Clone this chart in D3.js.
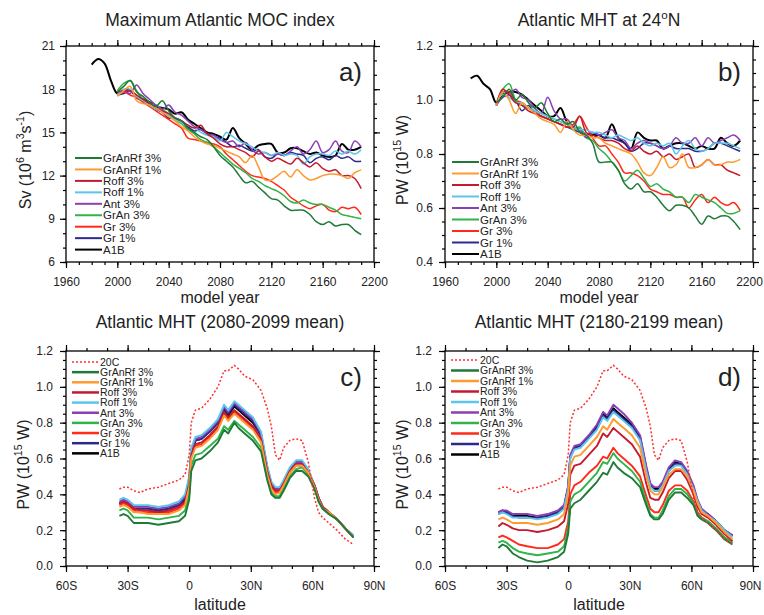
<!DOCTYPE html>
<html>
<head>
<meta charset="utf-8">
<script src="https://cdn.jsdelivr.net/npm/d3@7"></script>
<style>
body { margin: 0; background: #fff; }
text { font-family: "Liberation Sans", Arial, Helvetica, sans-serif; fill: #222; }
</style>
</head>
<body>
<script>
// experiment names / colours (legend order)
var expNames = ["GrAnRf 3%", "GrAnRf 1%", "Roff 3%", "Roff 1%", "Ant 3%", "GrAn 3%", "Gr 3%", "Gr 1%", "A1B"];
var expColors = ["#1f7a38", "#ff9a2e", "#c41a30", "#5cc6ea", "#8a3fb5", "#2fb34a", "#ff2a1a", "#2b2a8c", "#000000"];

// time axis of the sensitivity runs
var years = [2000, 2005, 2010, 2015, 2020, 2025, 2030, 2035, 2040, 2045, 2050, 2055, 2060, 2065, 2070, 2075,
  2080, 2085, 2090, 2095, 2100, 2105, 2110, 2115, 2120, 2125, 2130, 2135, 2140, 2145, 2150, 2155, 2160,
  2165, 2170, 2175, 2180, 2185, 2190];
var a1bYears = [1980, 1985, 1990, 1995].concat(years);

// a) maximum Atlantic MOC (Sv)
var mocGrAnRf3 = [17.8, 18.2, 18.6, 17.8, 17.5, 17.1, 16.8, 17.2, 16.5, 16.0, 15.8, 15.3, 15.0, 14.7, 14.5, 14.0, 13.4, 13.0, 12.6, 12.0, 11.5, 11.6, 11.2, 10.8, 10.4, 10.3, 9.9, 9.6, 9.6, 9.6, 9.3, 8.8, 8.6, 8.8, 8.5, 8.6, 8.6, 8.2, 7.9];
var mocGrAnRf1 = [17.5, 17.9, 18.2, 17.2, 17.0, 16.9, 16.7, 16.4, 16.1, 15.8, 15.4, 15.1, 14.7, 14.4, 14.2, 14.1, 13.9, 13.7, 13.5, 13.3, 12.9, 13.4, 12.6, 11.7, 11.7, 12.0, 12.3, 11.9, 12.4, 12.0, 11.7, 11.8, 12.0, 12.1, 12.1, 12.0, 11.8, 12.2, 12.4];
var mocRoff3 = [17.8, 17.9, 17.9, 17.6, 17.3, 17.0, 16.7, 16.5, 16.3, 16.0, 15.8, 15.5, 15.3, 15.5, 14.9, 14.6, 14.2, 14.0, 14.0, 13.8, 13.6, 13.3, 13.7, 13.3, 13.0, 13.2, 13.0, 12.8, 13.2, 12.9, 12.6, 12.9, 12.5, 12.3, 12.4, 12.0, 12.0, 11.8, 11.1];
var mocRoff1 = [17.6, 18.0, 18.0, 17.5, 17.2, 16.9, 16.6, 16.5, 16.2, 15.9, 15.7, 15.5, 15.3, 15.0, 14.8, 14.7, 14.4, 15.0, 14.7, 14.4, 14.2, 14.0, 13.7, 13.6, 13.4, 13.6, 13.4, 13.5, 13.4, 12.8, 13.3, 13.5, 13.5, 13.4, 13.7, 13.5, 13.7, 13.5, 13.8];
var mocAnt3 = [17.6, 17.9, 17.7, 18.3, 17.7, 17.3, 16.9, 16.6, 16.9, 16.4, 16.2, 15.8, 15.4, 15.2, 14.9, 14.8, 14.5, 14.3, 14.4, 14.0, 14.3, 13.8, 13.5, 13.6, 13.4, 13.5, 13.4, 13.7, 14.0, 13.5, 13.8, 14.4, 13.6, 13.8, 14.4, 13.7, 13.6, 14.4, 14.0];
var mocGrAn3 = [17.9, 18.4, 18.6, 17.9, 17.3, 17.0, 16.9, 16.6, 16.3, 15.9, 15.6, 15.2, 14.9, 14.5, 14.3, 14.0, 13.6, 13.2, 12.8, 12.5, 12.2, 11.8, 11.6, 11.3, 11.1, 10.9, 10.6, 10.2, 10.1, 10.3, 10.1, 10.0, 10.0, 9.8, 9.6, 9.3, 9.2, 9.1, 9.0];
var mocGr3 = [17.7, 17.8, 17.6, 17.4, 17.1, 16.8, 16.5, 16.2, 15.9, 15.6, 15.3, 14.6, 14.5, 14.4, 14.3, 14.2, 14.0, 13.5, 13.1, 12.7, 12.3, 12.0, 11.9, 11.8, 11.6, 11.3, 11.0, 10.5, 10.2, 9.9, 9.7, 9.9, 10.0, 9.6, 9.5, 9.8, 9.7, 9.8, 9.3];
var mocGr1 = [17.6, 17.7, 17.9, 17.4, 17.2, 16.9, 16.6, 16.4, 16.0, 16.0, 15.8, 15.4, 15.1, 15.2, 14.9, 14.7, 14.6, 14.3, 14.0, 14.1, 13.9, 13.7, 13.8, 13.3, 13.2, 13.5, 13.4, 13.6, 13.5, 13.4, 12.9, 13.2, 13.3, 13.1, 13.4, 13.2, 13.3, 13.0, 13.0];
var mocA1B = [19.7, 20.1, 19.8, 18.6, 17.7, 17.9, 17.9, 17.5, 17.3, 17.1, 16.8, 16.7, 16.6, 16.3, 16.4, 15.9, 15.6, 15.3, 15.0, 14.9, 14.7, 14.5, 15.3, 14.6, 14.2, 13.8, 14.1, 14.2, 14.2, 13.6, 13.6, 13.9, 13.9, 13.7, 13.5, 13.6, 13.4, 13.3, 13.4, 14.2, 13.8, 13.8, 14.0];

// b) Atlantic MHT at 24N (PW)
var mhtGrAnRf3 = [0.99, 1.01, 1.04, 1.00, 1.02, 0.99, 0.97, 0.99, 0.95, 0.92, 0.93, 0.91, 0.92, 0.88, 0.87, 0.84, 0.77, 0.77, 0.77, 0.74, 0.69, 0.67, 0.69, 0.66, 0.66, 0.64, 0.61, 0.59, 0.61, 0.61, 0.60, 0.57, 0.54, 0.57, 0.56, 0.57, 0.57, 0.55, 0.52];
var mhtGrAnRf1 = [0.98, 1.03, 1.00, 0.95, 0.99, 0.97, 0.95, 0.93, 0.92, 0.91, 0.88, 0.92, 0.89, 0.87, 0.87, 0.86, 0.86, 0.84, 0.83, 0.82, 0.81, 0.80, 0.77, 0.73, 0.72, 0.75, 0.79, 0.75, 0.76, 0.80, 0.75, 0.75, 0.76, 0.78, 0.76, 0.76, 0.77, 0.77, 0.78];
var mhtRoff3 = [0.98, 1.04, 1.02, 0.99, 0.98, 0.96, 0.95, 0.94, 0.93, 0.92, 0.91, 0.90, 0.90, 0.94, 0.88, 0.87, 0.86, 0.85, 0.85, 0.84, 0.82, 0.81, 0.83, 0.81, 0.80, 0.81, 0.79, 0.80, 0.78, 0.79, 0.80, 0.75, 0.76, 0.78, 0.76, 0.76, 0.74, 0.73, 0.72];
var mhtRoff1 = [0.99, 1.02, 1.01, 0.99, 0.99, 0.97, 0.96, 0.95, 0.94, 0.93, 0.92, 0.91, 0.90, 0.89, 0.89, 0.88, 0.88, 0.87, 0.86, 0.87, 0.86, 0.85, 0.86, 0.84, 0.83, 0.84, 0.83, 0.84, 0.80, 0.83, 0.85, 0.82, 0.81, 0.82, 0.84, 0.84, 0.84, 0.83, 0.82];
var mhtAnt3 = [0.98, 1.01, 1.02, 1.04, 1.01, 1.00, 0.97, 0.95, 1.01, 0.96, 0.93, 0.93, 0.90, 0.89, 0.86, 0.88, 0.87, 0.88, 0.89, 0.86, 0.85, 0.82, 0.84, 0.85, 0.84, 0.83, 0.82, 0.83, 0.86, 0.84, 0.84, 0.86, 0.83, 0.86, 0.84, 0.85, 0.86, 0.87, 0.85];
var mhtGrAn3 = [0.99, 1.04, 1.06, 1.00, 0.98, 0.97, 0.96, 0.95, 0.94, 0.93, 0.92, 0.91, 0.89, 0.90, 0.86, 0.85, 0.82, 0.80, 0.77, 0.74, 0.70, 0.72, 0.74, 0.71, 0.68, 0.69, 0.67, 0.66, 0.64, 0.64, 0.62, 0.65, 0.64, 0.63, 0.62, 0.60, 0.58, 0.58, 0.59];
var mhtGr3 = [0.98, 1.03, 1.03, 1.00, 0.99, 0.97, 0.96, 0.94, 0.93, 0.92, 0.91, 0.90, 0.91, 0.94, 0.90, 0.86, 0.83, 0.83, 0.80, 0.77, 0.73, 0.73, 0.72, 0.70, 0.67, 0.66, 0.65, 0.65, 0.64, 0.64, 0.60, 0.63, 0.65, 0.62, 0.64, 0.62, 0.61, 0.62, 0.59];
var mhtGr1 = [0.98, 1.03, 1.02, 1.00, 0.96, 0.98, 0.95, 0.94, 0.93, 0.92, 0.91, 0.90, 0.89, 0.88, 0.87, 0.88, 0.87, 0.86, 0.86, 0.85, 0.84, 0.81, 0.82, 0.84, 0.84, 0.83, 0.82, 0.83, 0.82, 0.82, 0.82, 0.81, 0.81, 0.82, 0.84, 0.84, 0.83, 0.82, 0.81];
var mhtA1B = [1.08, 1.09, 1.06, 1.04, 0.99, 1.02, 1.03, 1.03, 1.02, 1.00, 0.98, 0.96, 0.94, 0.94, 0.97, 0.92, 0.90, 0.89, 0.87, 0.87, 0.87, 0.86, 0.91, 0.86, 0.84, 0.82, 0.88, 0.86, 0.85, 0.85, 0.82, 0.83, 0.84, 0.84, 0.83, 0.82, 0.83, 0.82, 0.82, 0.86, 0.84, 0.83, 0.85];

// c), d) MHT as function of latitude
var lats = [-34, -32, -30, -27, -24, -20, -15, -10, -5, -2, 0, 1, 3, 6, 10, 14, 17, 19, 22, 24, 27, 31, 35, 38,
  40, 42, 44, 46, 49, 52, 55, 58, 61, 63, 65, 68, 72, 76, 80];
var mht20C = [0.43, 0.44, 0.44, 0.42, 0.41, 0.43, 0.44, 0.46, 0.48, 0.51, 0.62, 0.80, 0.87, 0.88, 0.93, 1.00, 1.09, 1.09, 1.12, 1.10, 1.06, 1.04, 0.98, 0.88, 0.78, 0.62, 0.59, 0.66, 0.70, 0.71, 0.70, 0.58, 0.38, 0.30, 0.27, 0.24, 0.20, 0.15, 0.12];

// 2080-2099 mean
var c_GrAnRf3 = [0.28, 0.29, 0.28, 0.24, 0.24, 0.24, 0.23, 0.24, 0.25, 0.28, 0.37, 0.53, 0.59, 0.60, 0.64, 0.69, 0.76, 0.74, 0.80, 0.77, 0.74, 0.70, 0.64, 0.48, 0.40, 0.38, 0.38, 0.42, 0.49, 0.53, 0.53, 0.50, 0.43, 0.36, 0.32, 0.29, 0.26, 0.21, 0.16];
var c_GrAnRf1 = [0.33, 0.34, 0.33, 0.30, 0.30, 0.29, 0.29, 0.29, 0.31, 0.34, 0.44, 0.60, 0.66, 0.67, 0.71, 0.76, 0.84, 0.81, 0.85, 0.83, 0.80, 0.76, 0.69, 0.51, 0.43, 0.40, 0.41, 0.45, 0.52, 0.56, 0.56, 0.52, 0.44, 0.37, 0.32, 0.30, 0.26, 0.21, 0.16];
var c_Roff3 = [0.35, 0.36, 0.35, 0.32, 0.31, 0.31, 0.30, 0.31, 0.33, 0.36, 0.46, 0.62, 0.68, 0.69, 0.73, 0.78, 0.86, 0.83, 0.87, 0.85, 0.82, 0.78, 0.71, 0.53, 0.45, 0.42, 0.42, 0.46, 0.53, 0.57, 0.57, 0.52, 0.45, 0.38, 0.33, 0.30, 0.26, 0.21, 0.16];
var c_Roff1 = [0.37, 0.38, 0.37, 0.34, 0.34, 0.34, 0.33, 0.34, 0.36, 0.40, 0.50, 0.66, 0.72, 0.73, 0.77, 0.82, 0.90, 0.87, 0.92, 0.90, 0.87, 0.83, 0.75, 0.56, 0.47, 0.44, 0.44, 0.48, 0.55, 0.59, 0.59, 0.54, 0.45, 0.38, 0.33, 0.30, 0.26, 0.21, 0.17];
var c_Ant3 = [0.36, 0.37, 0.36, 0.33, 0.33, 0.33, 0.32, 0.33, 0.35, 0.39, 0.49, 0.65, 0.71, 0.72, 0.76, 0.81, 0.89, 0.86, 0.91, 0.89, 0.86, 0.82, 0.74, 0.55, 0.46, 0.43, 0.43, 0.47, 0.54, 0.58, 0.58, 0.53, 0.45, 0.38, 0.33, 0.30, 0.26, 0.21, 0.17];
var c_GrAn3 = [0.31, 0.32, 0.31, 0.27, 0.27, 0.27, 0.26, 0.27, 0.28, 0.31, 0.40, 0.56, 0.62, 0.63, 0.67, 0.71, 0.78, 0.76, 0.81, 0.79, 0.76, 0.72, 0.66, 0.49, 0.41, 0.39, 0.39, 0.43, 0.50, 0.54, 0.55, 0.51, 0.44, 0.36, 0.32, 0.29, 0.26, 0.21, 0.16];
var c_Gr3 = [0.34, 0.35, 0.34, 0.31, 0.30, 0.30, 0.30, 0.30, 0.32, 0.35, 0.45, 0.61, 0.67, 0.68, 0.72, 0.77, 0.85, 0.82, 0.86, 0.84, 0.81, 0.77, 0.70, 0.52, 0.44, 0.41, 0.41, 0.45, 0.52, 0.56, 0.56, 0.52, 0.44, 0.37, 0.32, 0.30, 0.26, 0.21, 0.16];
var c_Gr1 = [0.35, 0.36, 0.35, 0.32, 0.32, 0.32, 0.31, 0.32, 0.34, 0.38, 0.48, 0.64, 0.70, 0.71, 0.75, 0.80, 0.88, 0.85, 0.90, 0.88, 0.85, 0.81, 0.73, 0.55, 0.46, 0.43, 0.43, 0.47, 0.54, 0.58, 0.58, 0.53, 0.45, 0.38, 0.33, 0.30, 0.26, 0.21, 0.16];
var c_A1B = [0.35, 0.36, 0.35, 0.32, 0.32, 0.32, 0.31, 0.32, 0.34, 0.37, 0.47, 0.63, 0.70, 0.71, 0.75, 0.80, 0.87, 0.84, 0.89, 0.87, 0.84, 0.80, 0.73, 0.54, 0.45, 0.43, 0.42, 0.46, 0.53, 0.58, 0.58, 0.53, 0.45, 0.38, 0.33, 0.30, 0.26, 0.21, 0.16];

// 2180-2199 mean
var d_GrAnRf3 = [0.10, 0.12, 0.11, 0.07, 0.05, 0.03, 0.02, 0.03, 0.05, 0.08, 0.18, 0.32, 0.35, 0.37, 0.42, 0.47, 0.52, 0.51, 0.58, 0.55, 0.52, 0.49, 0.44, 0.34, 0.28, 0.26, 0.26, 0.29, 0.37, 0.41, 0.41, 0.38, 0.34, 0.28, 0.26, 0.24, 0.20, 0.15, 0.12];
var d_GrAnRf1 = [0.26, 0.27, 0.26, 0.24, 0.24, 0.24, 0.23, 0.24, 0.26, 0.29, 0.40, 0.56, 0.61, 0.62, 0.67, 0.72, 0.78, 0.76, 0.82, 0.80, 0.77, 0.73, 0.66, 0.50, 0.42, 0.40, 0.40, 0.44, 0.51, 0.54, 0.54, 0.50, 0.42, 0.35, 0.30, 0.28, 0.24, 0.19, 0.15];
var d_Roff3 = [0.22, 0.24, 0.23, 0.21, 0.20, 0.20, 0.19, 0.20, 0.22, 0.25, 0.35, 0.51, 0.56, 0.57, 0.62, 0.67, 0.74, 0.72, 0.77, 0.75, 0.72, 0.68, 0.61, 0.46, 0.38, 0.37, 0.37, 0.41, 0.49, 0.53, 0.53, 0.48, 0.40, 0.33, 0.29, 0.27, 0.23, 0.18, 0.14];
var d_Roff1 = [0.29, 0.30, 0.29, 0.27, 0.27, 0.27, 0.26, 0.27, 0.29, 0.32, 0.43, 0.60, 0.65, 0.66, 0.71, 0.76, 0.83, 0.81, 0.86, 0.84, 0.81, 0.77, 0.70, 0.53, 0.44, 0.42, 0.42, 0.45, 0.53, 0.56, 0.56, 0.51, 0.43, 0.36, 0.31, 0.28, 0.25, 0.20, 0.16];
var d_Ant3 = [0.30, 0.31, 0.31, 0.29, 0.29, 0.29, 0.28, 0.29, 0.31, 0.34, 0.45, 0.62, 0.67, 0.68, 0.73, 0.79, 0.86, 0.84, 0.90, 0.88, 0.85, 0.80, 0.73, 0.56, 0.46, 0.44, 0.44, 0.47, 0.55, 0.59, 0.58, 0.53, 0.45, 0.37, 0.32, 0.29, 0.25, 0.20, 0.17];
var d_GrAn3 = [0.13, 0.14, 0.13, 0.10, 0.08, 0.07, 0.06, 0.07, 0.08, 0.11, 0.21, 0.36, 0.40, 0.42, 0.47, 0.52, 0.58, 0.57, 0.63, 0.60, 0.57, 0.53, 0.47, 0.36, 0.29, 0.27, 0.27, 0.31, 0.39, 0.43, 0.43, 0.40, 0.35, 0.29, 0.27, 0.25, 0.21, 0.16, 0.13];
var d_Gr3 = [0.16, 0.17, 0.16, 0.14, 0.12, 0.11, 0.10, 0.10, 0.12, 0.15, 0.25, 0.40, 0.45, 0.47, 0.52, 0.56, 0.61, 0.60, 0.66, 0.63, 0.60, 0.56, 0.50, 0.39, 0.32, 0.30, 0.30, 0.34, 0.42, 0.45, 0.45, 0.42, 0.36, 0.30, 0.27, 0.25, 0.21, 0.16, 0.13];
var d_Gr1 = [0.29, 0.30, 0.30, 0.28, 0.27, 0.27, 0.27, 0.28, 0.30, 0.33, 0.44, 0.61, 0.66, 0.67, 0.72, 0.77, 0.84, 0.82, 0.87, 0.85, 0.82, 0.78, 0.71, 0.54, 0.45, 0.42, 0.42, 0.46, 0.53, 0.57, 0.57, 0.52, 0.44, 0.36, 0.31, 0.29, 0.25, 0.20, 0.17];
var d_A1B = [0.30, 0.31, 0.30, 0.28, 0.28, 0.28, 0.27, 0.28, 0.30, 0.33, 0.44, 0.61, 0.66, 0.67, 0.72, 0.78, 0.85, 0.83, 0.88, 0.86, 0.83, 0.79, 0.72, 0.55, 0.45, 0.43, 0.43, 0.46, 0.54, 0.58, 0.57, 0.52, 0.44, 0.36, 0.31, 0.29, 0.25, 0.20, 0.17];

// tick labels
var yearTicks = [1960, 2000, 2040, 2080, 2120, 2160, 2200];
var mocTicks = [6, 9, 12, 15, 18, 21];
var pwTicksB = [0.4, 0.6, 0.8, 1.0, 1.2];
var pwTicksCD = [0.0, 0.2, 0.4, 0.6, 0.8, 1.0, 1.2];
var latTicks = [-60, -30, 0, 30, 60, 90];
var latLabels = ["60S", "30S", "0", "30N", "60N", "90N"];

var width = 764, height = 615;
var svg = d3.select('body').append('svg')
  .attr('width', width)
  .attr('height', height);

function addText(sel, parts, size) {
  // parts: plain strings, or [string] for a superscript
  var shift = 0;
  parts.forEach(function(p) {
    var sup = Array.isArray(p);
    var t = sel.append('tspan').text(sup ? p[0] : p);
    var dy = (sup ? -0.42 * size : 0) - shift;
    if (dy !== 0) t.attr('dy', dy);
    if (sup) t.attr('font-size', size * 0.66);
    shift = sup ? -0.42 * size : 0;
  });
}

function makePanel(o) {
  var g = svg.append('g')
    .attr('transform', 'translate(' + o.left + ',' + o.top + ')');

  var x = d3.scaleLinear().domain(o.xDomain).range([0, o.w]);
  var y = d3.scaleLinear().domain(o.yDomain).range([o.h, 0]);

  // minor ticks on all four sides
  var xm = d3.range(o.xDomain[0], o.xDomain[1] + 1e-6, o.xMinor);
  var ym = d3.range(o.yDomain[0], o.yDomain[1] + 1e-6, o.yMinor);
  g.append('g').attr('transform', 'translate(0,' + o.h + ')')
    .call(d3.axisBottom(x).tickValues(xm).tickSize(3).tickFormat(''));
  g.append('g').call(d3.axisTop(x).tickValues(xm).tickSize(3).tickFormat(''));
  g.append('g').call(d3.axisLeft(y).tickValues(ym).tickSize(3).tickFormat(''));
  g.append('g').attr('transform', 'translate(' + o.w + ',0)')
    .call(d3.axisRight(y).tickValues(ym).tickSize(3).tickFormat(''));

  // major ticks
  var xAxisNodes = g.append('g').attr('class', 'lab').attr('transform', 'translate(0,' + o.h + ')')
    .call(d3.axisBottom(x).tickValues(o.xTicks).tickSize(6).tickPadding(9).tickFormat(o.xFormat));
  g.append('g').call(d3.axisTop(x).tickValues(o.xTicks).tickSize(6).tickFormat(''));
  g.append('g').attr('class', 'lab')
    .call(d3.axisLeft(y).tickValues(o.yTicks).tickSize(6).tickPadding(o.yPad).tickFormat(o.yFormat));
  g.append('g').attr('transform', 'translate(' + o.w + ',0)')
    .call(d3.axisRight(y).tickValues(o.yTicks).tickSize(6).tickFormat(''));

  g.selectAll('.domain').remove();
  g.selectAll('.tick line').attr('stroke', '#000').attr('stroke-width', 1.2);
  g.selectAll('.lab text')
    .attr('font-family', '"Liberation Sans", Arial, sans-serif')
    .attr('font-size', 12)
    .attr('fill', '#222');
  // keep the last label inside the page on the right-hand column
  if (o.lastDx) {
    xAxisNodes.selectAll('.tick text')
      .filter(function(d, i, n) { return i === n.length - 1; })
      .attr('dx', o.lastDx);
  }

  // data lines, last legend entry drawn first
  var line = d3.line()
    .x(function(d) { return x(d[0]); })
    .y(function(d) { return y(d[1]); })
    .curve(o.curve);
  o.series.slice().reverse().forEach(function(s) {
    g.append('path')
      .datum(d3.zip(s.xs, s.ys))
      .attr('d', line)
      .attr('fill', 'none')
      .attr('stroke', s.color)
      .attr('stroke-width', s.lw)
      .attr('stroke-dasharray', s.dash || null)
      .attr('stroke-linejoin', 'round');
  });

  // frame
  g.append('rect')
    .attr('width', o.w).attr('height', o.h)
    .attr('fill', 'none').attr('stroke', '#000').attr('stroke-width', 1.3);

  // panel letter
  g.append('text')
    .attr('x', o.w - 12).attr('y', 35)
    .attr('text-anchor', 'end')
    .attr('font-size', 26)
    .text(o.letter);

  // title
  var t = g.append('text')
    .attr('x', o.w / 2).attr('y', o.titleY)
    .attr('text-anchor', 'middle')
    .attr('font-size', 17.5);
  addText(t, o.title, 17.5);

  // x-axis title
  g.append('text')
    .attr('x', o.w / 2).attr('y', o.h + o.xTitleOff)
    .attr('text-anchor', 'middle')
    .attr('font-size', 16)
    .text(o.xTitle);

  // y-axis title
  var yt = g.append('text')
    .attr('transform', 'translate(' + o.yTitleX + ',' + (o.h / 2 + 6) + ') rotate(-90)')
    .attr('text-anchor', 'middle')
    .attr('font-size', 16);
  addText(yt, o.yTitle, 16);

  // legend
  var lg = g.append('g')
    .attr('transform', 'translate(' + o.legend.x + ',' + o.legend.y + ')');
  o.legend.items.forEach(function(it, i) {
    var yy = i * o.legend.step;
    lg.append('line')
      .attr('x1', 0).attr('x2', o.legend.len)
      .attr('y1', yy).attr('y2', yy)
      .attr('stroke', it.color)
      .attr('stroke-width', it.dash ? 1.5 : o.legend.lw)
      .attr('stroke-dasharray', it.dash || null);
    lg.append('text')
      .attr('x', o.legend.len + 1).attr('y', yy)
      .attr('dy', '0.36em')
      .attr('font-size', o.legend.fs)
      .text(it.name);
  });
}

function timeSeries(list) {
  return list.map(function(vals, i) {
    var isA1B = i === list.length - 1;
    return { xs: isA1B ? a1bYears : years, ys: vals, color: expColors[i], lw: isA1B ? 2 : 1.5 };
  });
}

function latSeries(list) {
  var s = [{ xs: lats, ys: mht20C, color: '#ff3030', lw: 1.5, dash: '2,2' }];
  return s.concat(list.map(function(vals, i) {
    return { xs: lats, ys: vals, color: expColors[i], lw: 1.9 };
  }));
}

var expItems = expNames.map(function(n, i) { return { name: n, color: expColors[i] }; });
var latItems = [{ name: '20C', color: '#ff3030', dash: '2,2' }].concat(expItems);

var latFormat = function(d) { return latLabels[latTicks.indexOf(d)]; };

makePanel({
  left: 66, top: 46, w: 308, h: 216,
  xDomain: [1960, 2200], yDomain: [6, 21],
  xTicks: yearTicks, yTicks: mocTicks, xMinor: 10, yMinor: 1,
  xFormat: d3.format('d'), yFormat: d3.format('d'), yPad: 5,
  curve: d3.curveCatmullRom,
  series: timeSeries([mocGrAnRf3, mocGrAnRf1, mocRoff3, mocRoff1, mocAnt3, mocGrAn3, mocGr3, mocGr1, mocA1B]),
  letter: 'a)', title: ['Maximum Atlantic MOC index'], titleY: -20,
  xTitle: 'model year', xTitleOff: 41,
  yTitle: ['Sv (10', ['6'], ' m', ['3'], 's', ['-1'], ')'], yTitleX: -35,
  legend: { x: 9, y: 112, step: 11.45, len: 27, lw: 2, fs: 11.5, items: expItems }
});

makePanel({
  left: 445, top: 46, w: 308, h: 216,
  xDomain: [1960, 2200], yDomain: [0.4, 1.2],
  xTicks: yearTicks, yTicks: pwTicksB, xMinor: 10, yMinor: 0.05,
  xFormat: d3.format('d'), yFormat: d3.format('.1f'), yPad: 6, lastDx: -4,
  curve: d3.curveCatmullRom,
  series: timeSeries([mhtGrAnRf3, mhtGrAnRf1, mhtRoff3, mhtRoff1, mhtAnt3, mhtGrAn3, mhtGr3, mhtGr1, mhtA1B]),
  letter: 'b)', title: ['Atlantic MHT at 24', ['o'], 'N'], titleY: -20,
  xTitle: 'model year', xTitleOff: 41,
  yTitle: ['PW (10', ['15'], ' W)'], yTitleX: -37,
  legend: { x: 7, y: 116, step: 11.5, len: 27, lw: 2, fs: 11.5, items: expItems }
});

makePanel({
  left: 66, top: 351, w: 308, h: 215,
  xDomain: [-60, 90], yDomain: [0, 1.2],
  xTicks: latTicks, yTicks: pwTicksCD, xMinor: 10, yMinor: 0.05,
  xFormat: latFormat, yFormat: d3.format('.1f'), yPad: 7,
  curve: d3.curveLinear,
  series: latSeries([c_GrAnRf3, c_GrAnRf1, c_Roff3, c_Roff1, c_Ant3, c_GrAn3, c_Gr3, c_Gr1, c_A1B]),
  letter: 'c)', title: ['Atlantic MHT (2080-2099 mean)'], titleY: -23,
  xTitle: 'latitude', xTitleOff: 44,
  yTitle: ['PW (10', ['15'], ' W)'], yTitleX: -37,
  legend: { x: 6, y: 11, step: 10.15, len: 27, lw: 2.5, fs: 10.5, items: latItems }
});

makePanel({
  left: 445, top: 351, w: 308, h: 215,
  xDomain: [-60, 90], yDomain: [0, 1.2],
  xTicks: latTicks, yTicks: pwTicksCD, xMinor: 10, yMinor: 0.05,
  xFormat: latFormat, yFormat: d3.format('.1f'), yPad: 7, lastDx: -3,
  curve: d3.curveLinear,
  series: latSeries([d_GrAnRf3, d_GrAnRf1, d_Roff3, d_Roff1, d_Ant3, d_GrAn3, d_Gr3, d_Gr1, d_A1B]),
  letter: 'd)', title: ['Atlantic MHT (2180-2199 mean)'], titleY: -23,
  xTitle: 'latitude', xTitleOff: 44,
  yTitle: ['PW (10', ['15'], ' W)'], yTitleX: -37,
  legend: { x: 6, y: 9, step: 10.5, len: 28, lw: 2.5, fs: 10.5, items: latItems }
});
</script>
</body>
</html>
